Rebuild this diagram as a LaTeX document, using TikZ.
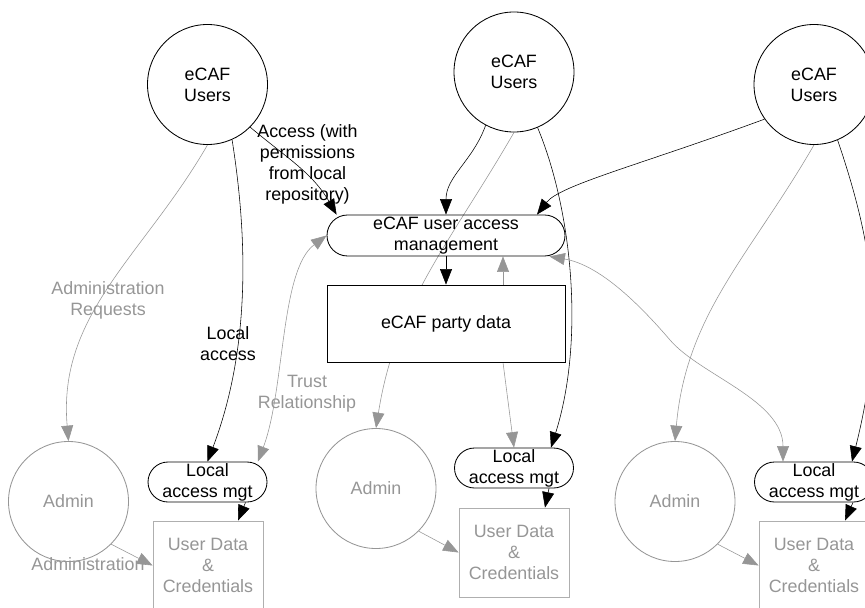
\documentclass[tikz,border=0pt]{standalone}
\usepackage{fontspec}
\setmainfont{Liberation Sans}
\usetikzlibrary{arrows.meta,backgrounds}
\definecolor{linegray}{RGB}{150,150,150}
\definecolor{boxgray}{RGB}{175,175,175}

\begin{document}
\begin{tikzpicture}[font=\fontsize{12.7}{14.9}\selectfont, line width=0.6pt,
	users/.style={circle, draw, minimum size=3cm, inner sep=0pt, align=center},
	admin/.style={circle, draw=linegray, text=linegray, minimum size=3cm, inner sep=0pt},
	pill/.style={rectangle, draw, rounded corners=#1, inner sep=0pt, align=center},
	store/.style={rectangle, draw, fill=white, minimum width=5.95cm, minimum height=1.925cm},
	udata/.style={rectangle, draw=boxgray, text=linegray, fill=white, minimum width=2.75cm, minimum height=2.225cm, inner sep=0pt, align=center},
	lbl/.style={align=center, inner sep=0pt},
	lblgray/.style={lbl, text=linegray},
	flow/.style={-{Triangle[length=11pt,width=8.5pt]}},
	flowgray/.style={flow, linegray},
	twoway/.style={{Triangle[length=11pt,width=8.5pt]}-{Triangle[length=11pt,width=8.5pt]}, linegray}]
	\useasboundingbox (0,0) rectangle (21.625,15.175);
	\clip (0,0) rectangle (21.625,15.175);

	\node[users] (u1) at (5.1875,13.0625) {eCAF\\Users};
	\node[users] (u2) at (12.85,13.375) {eCAF\\Users};
	\node[users] (u3) at (20.35,13.0625) {eCAF\\Users};

	\node[pill=0.5125cm, minimum width=5.95cm, minimum height=1.025cm] (uam) at (11.15,9.2875) {eCAF user access\\management};
	\node[store] (party) at (11.15,7.0875) {eCAF party data};

	\node[pill=0.5cm, minimum width=2.975cm, minimum height=1cm] (lam1) at (5.1875,3.125) {Local\\access mgt};
	\node[pill=0.5cm, minimum width=2.975cm, minimum height=1cm] (lam2) at (12.85,3.475) {Local\\access mgt};
	\node[pill=0.5cm, minimum width=2.975cm, minimum height=1cm] (lam3) at (20.35,3.125) {Local\\access mgt};

	\node[admin] (ad1) at (1.7125,2.6375) {Admin};
	\node[admin] (ad2) at (9.4,2.9625) {Admin};
	\node[admin] (ad3) at (16.875,2.6375) {Admin};

	\node[udata] (ud1) at (5.2,1.0375) {User Data\\\&\\Credentials};
	\node[udata] (ud2) at (12.85,1.3625) {User Data\\\&\\Credentials};
	\node[udata] (ud3) at (20.35,1.0375) {User Data\\\&\\Credentials};

	\node[lbl] (accesslbl) at (7.6875,11.0625) {Access (with\\permissions\\from local\\repository)};
	\node[lbl] (locallbl) at (5.7,6.575) {Local\\access};
	\node[lblgray] (adminreqlbl) at (2.7,7.6625) {Administration\\Requests};
	\node[lblgray] (trustlbl) at (7.675,5.325) {Trust\\Relationship};
	\node[lblgray] (adminlbl) at (2.2,1.075) {Administration};

	\begin{scope}[on background layer]
	\clip (0,0) rectangle (21.625,15.175);
	\draw[flow] (u1.-45) to[out=-40,in=120] ([xshift=0.25cm]uam.north west);
	\draw[flow] (u1.-66) .. controls (6.2,9.175) and (6.25,6.425) .. (lam1.north);
	\draw[flowgray] (u1.south) to[out=-120,in=95] (ad1.north);
	\draw[flow] (u2.-118) to[out=-110,in=90] (uam.north);
	\draw[flowgray] (u2.south) to[out=240,in=81] (ad2.north);
	\draw[flow] (u2.-67) .. controls (14.3,9.925) and (14.625,6.675) .. ([xshift=0.925cm]lam2.north);
	\draw[flow] (u3.215) .. controls (16,11.05) and (14,10.55) .. ([xshift=2.275cm]uam.north);
	\draw[flowgray] (u3.south) to[out=-120,in=85] (ad3.north);
	\draw[flow] (u3.-67) .. controls (21.875,8.925) and (22.125,6.925) .. ([xshift=0.95cm]lam3.north);
	\draw[flow] (uam.south) -- (party.north);
	\draw[flowgray] ([xshift=1.425cm]party.north) -- ([xshift=1.425cm]uam.south);
	\draw[flowgray] ([xshift=1.425cm]party.south) -- (lam2.north);
	\draw[twoway] (uam.west) .. controls (7,8.425) and (7.125,5.425) .. ([xshift=1.26cm]lam1.north);
	\draw[twoway] ([xshift=-0.4cm]uam.south east) .. controls (15,8.55) and (16,7.55) .. (16.75,6.675) .. controls (17.5,5.8) and (19.575,5.175) .. ([xshift=-0.775cm]lam3.north);
	\draw[flow] ([xshift=0.95cm]lam1.south) -- ([xshift=0.75cm]ud1.north);
	\draw[flow] ([xshift=0.875cm]lam2.south) -- ([xshift=0.775cm]ud2.north);
	\draw[flow] ([xshift=0.975cm]lam3.south) -- ([xshift=0.775cm]ud3.north);
	\draw[flowgray] (ad1.-45) -- (ud1.west);
	\draw[flowgray] (ad2.-45) -- (ud2.west);
	\draw[flowgray] (ad3.-45) -- (ud3.west);
	\end{scope}
\end{tikzpicture}
\end{document}
